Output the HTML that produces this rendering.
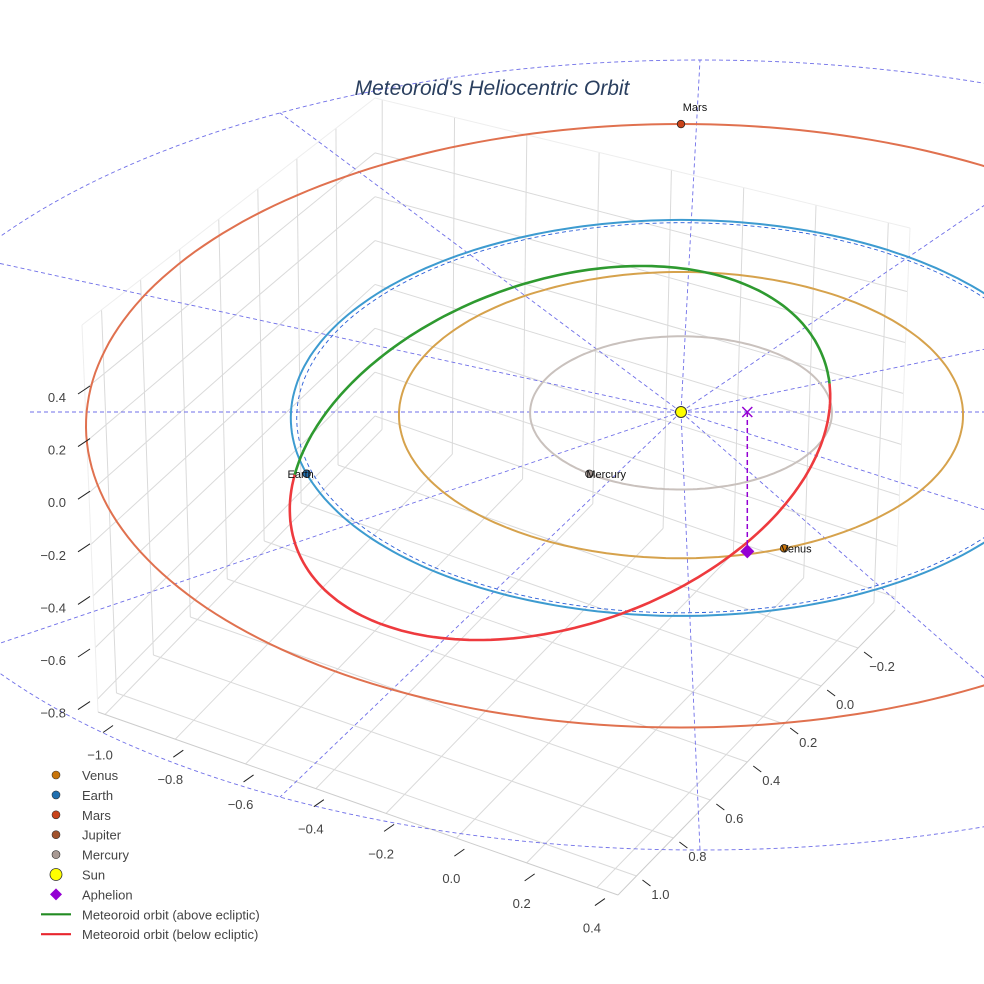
<!DOCTYPE html>
<html><head><meta charset="utf-8"><style>
body{margin:0;background:#fff}
svg{display:block;font-family:"Liberation Sans",sans-serif}
</style></head><body>
<svg id="chart" width="984" height="984" viewBox="0 0 984 984">
<rect width="984" height="984" fill="#fff"/>
<g id="grid"></g>
<g id="ref"></g>
<g id="orbits"></g>
<g id="met"></g>
<g id="marks"></g>
<g id="axes"></g>
<text x="492" y="95" text-anchor="middle" font-size="21" font-style="italic" fill="#2a3f5f">Meteoroid's Heliocentric Orbit</text>
<g id="legend"></g>
</svg>
<script>
const orbitNames=["Mercury","Venus","Earth","Mars"];
const orbitRadii=[0.387,0.723,1.0,1.524];
const orbitColors=["#c9c1bd","#d6a24c","#3d9bd0","#e0714f"];
const planetAngles=[127,69,162,-90];
const planetColors=["#a89a94","#c8740a","#1f6fb0","#c8431a"];
const xTicks=[-0.2,0,0.2,0.4,0.6,0.8,1.0];
const yTicks=[-1.0,-0.8,-0.6,-0.4,-0.2,0,0.2,0.4];
const zTicks=[0.4,0.2,0,-0.2,-0.4,-0.6,-0.8];
const aphelion=[0.17,0,-0.53];
const meteorEllipse=[560,453,280,172,-19.4];
const legendLabels=["Venus","Earth","Mars","Jupiter","Mercury","Sun","Aphelion","Meteoroid orbit (above ecliptic)","Meteoroid orbit (below ecliptic)"];
const legendColors=["#c8740a","#1f6fb0","#c8431a","#a0522d","#a89a94","#ffff00","#9400d3","#228b22","#e8262e"];

const NS="http://www.w3.org/2000/svg";
function mk(tag,attrs,parent){const e=document.createElementNS(NS,tag);for(const k in attrs)e.setAttribute(k,attrs[k]);parent.appendChild(e);return e;}
const G=id=>document.getElementById(id);
// orbit projection (ecliptic plane)
function proj(X,Y,Z){const f=1+0.03*Y;return [681+390*X*f,412+198*Y*f-263*(Z||0)];}
// box projection
const Bc=[375,427],Lc=[98,712],Rc=[895,610];
function box(x,y,z){const u=(x+0.4)/1.5,v=(y+1.02)/1.48;
 const px=Bc[0]+u*(Lc[0]-Bc[0])+v*(Rc[0]-Bc[0]);
 const py=Bc[1]+u*(Lc[1]-Bc[1])+v*(Rc[1]-Bc[1]);
 const h=329+u*(387-329)+v*(382-329);
 return [px-(u*16-v*15)*(z+0.85)/1.5,py-h*(z+0.85)/1.5];}
function line(p,q,st,g,name){const e=mk("line",{x1:p[0],y1:p[1],x2:q[0],y2:q[1],stroke:st.c,"stroke-width":st.w||1,"stroke-dasharray":st.d||"none"},g);
 
 return e;}
// grid
const grid=G("grid"),gs={c:"#dadada",w:1};
const zl=-0.85,zh=0.65,xl=-0.4,xh=1.1,yl=-1.02,yh=0.46;
zTicks.forEach(z=>{line(box(xl,yl,z),box(xh,yl,z),gs,grid,"grid-line");line(box(xl,yl,z),box(xl,yh,z),gs,grid,"grid-line");});
xTicks.forEach(x=>{line(box(x,yl,zl),box(x,yl,zh),gs,grid,"grid-line");line(box(x,yl,zl),box(x,yh,zl),gs,grid,"grid-line");});
yTicks.forEach(y=>{line(box(xl,y,zl),box(xl,y,zh),gs,grid,"grid-line");line(box(xl,y,zl),box(xh,y,zl),gs,grid,"grid-line");});
line(box(xl,yl,zh),box(xh,yl,zh),{c:"#eee"},grid,"box-edge");
line(box(xl,yl,zh),box(xl,yh,zh),{c:"#eee"},grid,"box-edge");
line(box(xh,yl,zl),box(xh,yl,zh),{c:"#eee"},grid,"box-edge");
line(box(xl,yh,zl),box(xl,yh,zh),{c:"#eee"},grid,"box-edge");
line(box(xh,yl,zl),box(xh,yh,zl),{c:"#ccc"},grid,"box-edge");
line(box(xl,yh,zl),box(xh,yh,zl),{c:"#ccc"},grid,"box-edge");
// axis labels
const ax=G("axes");
function txt(x,y,s,anchor,g,name,size,fill){const t=mk("text",{x:x,y:y,"text-anchor":anchor,"font-size":size||13,fill:fill||"#444"},g);t.textContent=s;
 
 return t;}
const fmt=v=>(v<0?"\u2212":"")+Math.abs(v).toFixed(1);
xTicks.forEach(x=>{const p=box(x,yh,zl);line([p[0]+6,p[1]+4],[p[0]+14,p[1]+10],{c:"#222"},ax,"x-tick");txt(p[0]+24,p[1]+23,fmt(x),"middle",ax,"x-tick-label");});
yTicks.forEach(y=>{const p=box(xh,y,zl);line([p[0]-2,p[1]+18],[p[0]+8,p[1]+11],{c:"#222"},ax,"y-tick");txt(p[0]-5,p[1]+45,fmt(y),"middle",ax,"y-tick-label");});
zTicks.forEach(z=>{const y=397+(0.4-z)*263;line([78,y-3],[90,y-11],{c:"#222"},ax,"z-tick");txt(66,y+5,fmt(z),"end",ax,"z-tick-label");});
// reference dashed lines
const ref=G("ref"),rs={c:"#6f6fe8",w:0.9,d:"4,3"};
const bc=[700,455],brx=840,bry=395;
const be=mk("ellipse",{cx:bc[0],cy:bc[1],rx:brx,ry:bry,fill:"none",stroke:rs.c,"stroke-width":0.9,"stroke-dasharray":"4,3"},ref);


const sun=proj(0,0,0);
for(let a=0;a<360;a+=30){if(a===0||a===180)continue;const t=a*Math.PI/180;line(sun,[bc[0]+brx*Math.cos(t),bc[1]+bry*Math.sin(t)],rs,ref,"radial-line");}
line([30,sun[1]],[984,sun[1]],rs,ref,"ecliptic-horizontal-line");
// earth reference dashed orbit
(function(){let d="";for(let i=0;i<=180;i++){const t=i*2*Math.PI/180;const p=proj(0.985*Math.cos(t),0.985*Math.sin(t));d+=(i?"L":"M")+p[0].toFixed(1)+","+p[1].toFixed(1);}
 const e=mk("path",{d:d,fill:"none",stroke:"#2a5ed8","stroke-width":0.9,"stroke-dasharray":"4,3"},ref);
 
 })();
// orbits
const orb=G("orbits");
orbitRadii.forEach((r,k)=>{let d="";for(let i=0;i<=240;i++){const t=i*2*Math.PI/240;const p=proj(r*Math.cos(t),r*Math.sin(t));d+=(i?"L":"M")+p[0].toFixed(1)+","+p[1].toFixed(1);}
 const e=mk("path",{d:d,fill:"none",stroke:orbitColors[k],"stroke-width":2},orb);
 
 });
// meteoroid
const met=G("met");
const [mcx,mcy,ma,mb,mphi]=meteorEllipse;const cp=Math.cos(mphi*Math.PI/180),sp=Math.sin(mphi*Math.PI/180);
const mpt=t=>[mcx+ma*cp*Math.cos(t)-mb*sp*Math.sin(t),mcy+ma*sp*Math.cos(t)+mb*cp*Math.sin(t)];
function tOf(p){const dx=p[0]-mcx,dy=p[1]-mcy;const u=(dx*cp+dy*sp)/ma,v=(-dx*sp+dy*cp)/mb;return Math.atan2(v,u);}
const earthP=proj(Math.cos(planetAngles[2]*Math.PI/180),Math.sin(planetAngles[2]*Math.PI/180));
let tE=tOf(earthP),tN=tOf([828,384]);
while(tE<tN)tE+=2*Math.PI;
function seg(t0,t1,col,name){let d="";const n=120;for(let i=0;i<=n;i++){const p=mpt(t0+(t1-t0)*i/n);d+=(i?"L":"M")+p[0].toFixed(1)+","+p[1].toFixed(1);}
 const e=mk("path",{d:d,fill:"none",stroke:col,"stroke-width":2.6},met);
 
 }
seg(tN,tE-2*Math.PI,"#2e9a30","meteoroid-orbit-above");
seg(tE-2*Math.PI,tN-2*Math.PI,"#ee3a3e","meteoroid-orbit-below");
// markers
const mkg=G("marks");
orbitNames.forEach((n,k)=>{const t=planetAngles[k]*Math.PI/180;const p=proj(orbitRadii[k]*Math.cos(t),orbitRadii[k]*Math.sin(t));
 const c=mk("circle",{cx:p[0],cy:p[1],r:3.8,fill:planetColors[k],stroke:"#222","stroke-width":0.8},mkg);
 
 
 if(n==="Mars")txt(p[0]+14,p[1]-13,n,"middle",mkg,"mars-label",11,"#111");
 else if(n==="Earth")txt(p[0]-6,p[1]+4,n,"middle",mkg,"earth-label",11,"#111");
 else txt(p[0]-3,p[1]+4,n,"start",mkg,n.toLowerCase()+'-label',11,"#111");});
const sc=mk("circle",{cx:sun[0],cy:sun[1],r:5.5,fill:"#ffff00",stroke:"#333","stroke-width":1},mkg);


const apE=proj(aphelion[0],aphelion[1],0),apP=proj(aphelion[0],aphelion[1],aphelion[2]);
line(apE,apP,{c:"#9400d3",w:1.5,d:"5,3"},mkg,"aphelion-drop-line");
const xm=mk("path",{d:`M${apE[0]-5},${apE[1]-5}L${apE[0]+5},${apE[1]+5}M${apE[0]-5},${apE[1]+5}L${apE[0]+5},${apE[1]-5}`,stroke:"#9400d3","stroke-width":1.5},mkg);


const dm=mk("path",{d:`M${apP[0]},${apP[1]-7}L${apP[0]+7},${apP[1]}L${apP[0]},${apP[1]+7}L${apP[0]-7},${apP[1]}Z`,fill:"#9400d3"},mkg);


// legend
const lg=G("legend");
legendLabels.forEach((s,i)=>{const y=775+i*19.9;
 let m;
 if(i<5)m=mk("circle",{cx:56,cy:y,r:4,fill:legendColors[i],stroke:"#333","stroke-width":0.6},lg);
 else if(i===5)m=mk("circle",{cx:56,cy:y,r:6,fill:legendColors[i],stroke:"#333","stroke-width":0.8},lg);
 else if(i===6)m=mk("path",{d:`M56,${y-6}L62,${y}L56,${y+6}L50,${y}Z`,fill:legendColors[i]},lg);
 else m=mk("line",{x1:41,y1:y,x2:71,y2:y,stroke:legendColors[i],"stroke-width":2.2},lg);
 
 
 const t=txt(82,y+5,s,"start",lg,"legend-entry",13,"#444");
 });
</script>
</body></html>
